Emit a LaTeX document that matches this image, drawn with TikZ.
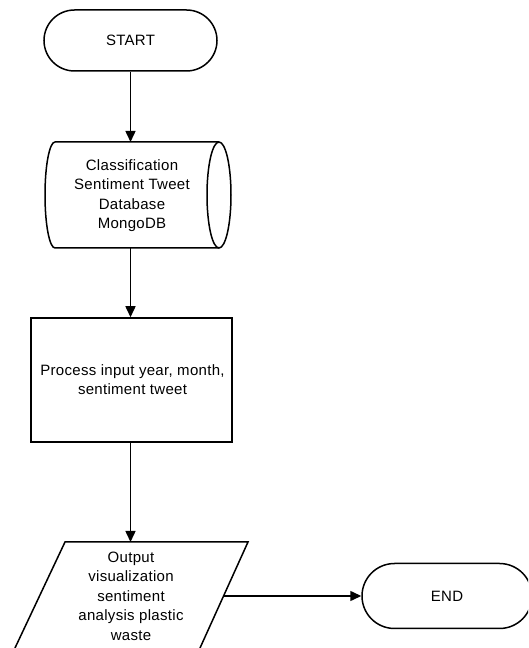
\documentclass[tikz,border=0pt]{standalone}
\usepackage{fontspec}
\setmainfont{Liberation Sans}[LetterSpace=2]
\usetikzlibrary{shapes.misc,arrows.meta}
\begin{document}
\begin{tikzpicture}[x=1pt,y=1pt,
  lw/.style={line width=1.5pt},
  term/.style={rounded rectangle, draw, lw, minimum width=173pt, minimum height=61pt, inner sep=0pt, font=\fontsize{15}{19}\selectfont},
  txt/.style={align=center, font=\fontsize{15}{19.5}\selectfont, inner sep=0pt},
  arr/.style={lw, -{Triangle[length=11pt,width=10pt]}}
]
\clip (0,0) rectangle (528,648);
\fill[white] (0,0) rectangle (528,648);
% start
\node[term] (start) at (130.5,607.5) {START};
% database
\draw[lw] (219,506) -- (55,506) arc[start angle=90,end angle=270,x radius=10,y radius=53] -- (219,400);
\draw[lw] (219,453) ellipse[x radius=12,y radius=53];
\node[txt] (db) at (132,452.5) {Classification\\Sentiment Tweet\\Database\\MongoDB};
\coordinate (dbT) at (130.5,506);
\coordinate (dbB) at (130.5,400);
% process
\node[draw, lw, minimum width=201pt, minimum height=124pt, txt] (proc) at (131.5,268) {};
\node[txt] (proctxt) at (132.5,268.5) {Process input year, month,\\sentiment tweet};
% output
\draw[lw] (65,106) -- (248,106) -- (198.2,-4) -- (13.1,-4) -- cycle;
\node[txt] (out) at (131,52) {Output\\visualization\\sentiment\\analysis plastic\\waste};
\coordinate (outT) at (130.5,106);
\coordinate (outR) at (223,52);
% end
\node[term, minimum width=170pt, minimum height=65pt] (end) at (447,52) {END};
% connectors
\draw[arr] (start.south) -- (dbT);
\draw[arr] (dbB) -- (dbB |- proc.north);
\draw[arr] (proc.south -| outT) -- (outT);
\draw[arr] (outR) -- (end.west);
\end{tikzpicture}
\end{document}
